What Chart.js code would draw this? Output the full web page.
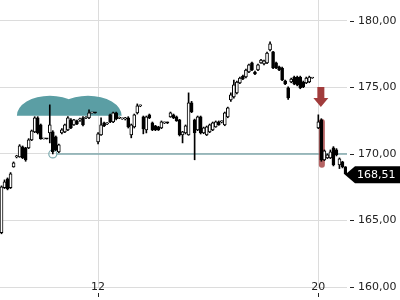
<!DOCTYPE html>
<html lang="de">
<head>
<meta charset="UTF-8">
<title>Kursverlauf</title>
<script src="https://cdn.jsdelivr.net/npm/chart.js"></script>
<style>
  html, body { margin: 0; padding: 0; background: #fff; }
</style>
</head>
<body>
<canvas id="chart" width="400" height="300"></canvas>
<script>
// Kerzen (Index = Zeitslot), null = keine Kerze
const open = [
  164.08, 167.46, 168.13, 167.46, 169.03, 169.78, 169.78, 170.53, 170.46, 170.46,
  171.06, 171.66, 172.71, 172.19, 171.13, 171.14, 171.58, 171.66, 171.28, 170.16,
  171.58, 171.66, 171.81, 172.56, 172.19, 172.49, 172.56, 172.71, 172.70, 172.71,
  173.09, 173.10, 170.91, 171.43, 172.34, 172.26, 172.94, 172.41, 173.09, 172.70,
  172.64, 172.64, 172.71, 171.43, 172.04, 173.09, 173.61, 172.79, 171.81, 172.94,
  172.34, 172.11, 172.04, 171.96, 172.33, 172.35, 172.79, 172.94, 172.79, 172.56,
  171.43, 171.58, 171.43, 173.84, 172.56, 171.81, 172.79, 171.58, 171.43, 171.66,
  171.81, 172.04, 172.41, 172.41, 172.19, 172.79, 174.06, 174.29, 174.59, 175.33,
  175.86, 175.78, 176.16, 176.84, 176.16, 176.31, 176.84, 176.76, 176.84, 177.82,
  177.67, 176.84, 176.54, 176.46, 175.49, 174.96, 175.41, 175.78, 175.78, 175.78,
  175.41, 175.33, 175.41, 175.71, null,   171.96, 172.56, 169.56, 169.71, 169.71,
  170.46, 170.31, 169.18, 169.41, 169.03
];
const high = [
  167.60, 168.05, 168.20, 168.60, 169.40, 169.90, 170.70, 170.60, 170.50, 171.15,
  171.80, 172.80, 172.80, 172.25, 171.16, 171.16, 173.69, 171.75, 171.35, 170.75,
  171.90, 172.25, 172.80, 172.65, 172.60, 172.55, 172.70, 172.80, 172.80, 173.31,
  173.12, 173.12, 171.60, 172.71, 172.40, 172.35, 173.00, 173.15, 173.15, 172.78,
  172.70, 172.75, 172.80, 172.25, 173.00, 173.76, 173.68, 172.85, 172.85, 173.00,
  172.40, 172.15, 172.08, 172.48, 172.40, 172.40, 173.15, 173.00, 172.85, 172.60,
  171.70, 172.18, 174.59, 173.95, 172.62, 172.85, 172.85, 172.02, 172.10, 172.25,
  172.40, 172.48, 172.48, 172.50, 173.15, 173.52, 174.60, 175.56, 175.48, 175.78,
  175.93, 176.38, 176.75, 176.90, 176.22, 176.75, 177.12, 177.05, 177.65, 178.42,
  177.72, 176.90, 176.60, 176.52, 175.55, 175.05, 175.70, 175.85, 175.85, 175.85,
  175.48, 175.78, 175.85, 175.76, null,   172.94, 172.65, 170.30, 170.00, 170.30,
  170.55, 170.40, 169.70, 169.45, 169.05
];
const low = [
  164.00, 167.40, 167.30, 167.40, 169.00, 169.70, 169.75, 169.65, 169.45, 170.40,
  171.00, 171.60, 171.50, 171.10, 171.12, 171.12, 170.83, 170.00, 170.25, 170.10,
  171.50, 171.60, 171.75, 171.90, 172.15, 172.20, 172.45, 172.10, 172.65, 172.65,
  173.07, 173.07, 170.76, 171.40, 172.05, 172.20, 172.35, 172.35, 172.55, 172.65,
  172.60, 172.55, 171.95, 171.21, 171.95, 173.00, 173.55, 171.51, 171.58, 172.65,
  171.75, 171.75, 171.76, 171.90, 172.28, 172.28, 172.75, 172.65, 172.45, 171.35,
  170.83, 171.50, 171.40, 173.10, 169.56, 171.75, 171.50, 171.52, 171.38, 171.60,
  171.75, 172.00, 172.15, 172.33, 172.12, 172.72, 173.95, 174.20, 174.52, 175.28,
  175.58, 175.72, 176.10, 176.25, 175.95, 176.25, 176.80, 176.70, 176.78, 177.75,
  176.40, 176.40, 176.25, 175.50, 175.20, 174.10, 175.35, 175.20, 175.12, 174.90,
  174.98, 175.28, 175.35, 175.68, null,   171.90, 169.45, 169.50, 169.65, 169.65,
  169.10, 169.85, 168.90, 168.95, 168.45
];
const close = [
  167.53, 167.91, 167.38, 168.51, 169.33, 169.80, 170.61, 169.71, 169.56, 171.06,
  171.73, 172.71, 171.58, 171.13, 171.14, 171.13, 172.19, 170.16, 170.31, 170.68,
  171.81, 172.19, 172.71, 171.96, 172.56, 172.26, 172.58, 172.19, 172.72, 173.09,
  173.10, 173.09, 171.51, 172.19, 172.11, 172.28, 172.41, 173.09, 172.64, 172.72,
  172.66, 172.65, 172.04, 172.19, 172.94, 173.61, 173.62, 171.89, 172.79, 172.71,
  171.81, 171.81, 171.81, 172.41, 172.35, 172.33, 173.09, 172.71, 172.49, 171.43,
  171.66, 172.11, 173.84, 173.16, 171.58, 172.79, 171.58, 171.96, 172.04, 172.19,
  172.34, 172.41, 172.19, 172.42, 173.09, 173.46, 174.44, 175.19, 175.41, 175.71,
  175.63, 176.31, 176.69, 176.31, 176.01, 176.69, 177.06, 176.99, 177.59, 178.27,
  176.46, 176.46, 176.31, 175.56, 175.26, 174.21, 175.63, 175.26, 175.19, 174.96,
  175.04, 175.71, 175.78, 175.72, null,   172.41, 169.56, 170.23, 169.93, 170.16,
  169.18, 169.93, 169.63, 169.03, 168.51
];

const yTicks = [160, 165, 170, 175, 180];
const xTickIndex = [32, 105];
const xTickText = ['12', '20'];

const lastPrice = 168.51;
const supportLevel = 170;
const supportStart = 17;
const signalIndex = 106;
const signalTop = 172.63, signalBottom = 168.96;
const arrowTip = 173.53;
// Untertassen-Formation: zwei Bögen
const humps = [
  { from: 5.1, to: 27.0, base: 172.87, top: 174.38 },
  { from: 17.5, to: 39.8, base: 172.87, top: 174.38 }
];

const labels = open.map((_, i) => String(i));
const wicks = low.map((l, i) => l === null ? null : [l, high[i]]);
const bodies = open.map((o, i) => o === null ? null : [o, close[i]]);

const fmt = v => v.toFixed(2).replace('.', ',');
const font = { family: 'DejaVu Sans', size: 11 };

const overlays = {
  id: 'overlays',
  beforeDatasetsDraw(chart) {
    const { ctx, chartArea, scales: { x, y } } = chart;
    ctx.save();
    // Bögen
    ctx.fillStyle = '#5b9ea4';
    ctx.beginPath();
    humps.forEach(h => {
      const x1 = x.getPixelForValue(h.from), x2 = x.getPixelForValue(h.to);
      const yb = y.getPixelForValue(h.base), yt = y.getPixelForValue(h.top);
      ctx.moveTo(x2, yb);
      ctx.ellipse((x1 + x2) / 2, yb, (x2 - x1) / 2, yb - yt, 0, 0, Math.PI, true);
      ctx.closePath();
    });
    ctx.fill();

    // Unterstützungslinie
    const ys = y.getPixelForValue(supportLevel);
    const xs = x.getPixelForValue(supportStart);
    ctx.strokeStyle = '#80a9ad';
    ctx.lineWidth = 1.5;
    ctx.beginPath();
    ctx.moveTo(xs + 4, ys);
    ctx.lineTo(chartArea.right, ys);
    ctx.stroke();
    ctx.strokeStyle = '#7aaaae';
    ctx.lineWidth = 1.2;
    ctx.beginPath();
    ctx.arc(xs, ys, 4, 0, Math.PI * 2);
    ctx.stroke();

    // Signal-Markierung
    const xm = x.getPixelForValue(signalIndex);
    const t = y.getPixelForValue(signalTop), b = y.getPixelForValue(signalBottom);
    ctx.fillStyle = 'rgba(168,72,72,0.85)';
    ctx.beginPath();
    ctx.roundRect(xm - 2.5, t, 6, b - t, 3);
    ctx.fill();
    ctx.restore();
  },
  afterDatasetsDraw(chart) {
    const { ctx, scales: { x, y } } = chart;
    const xm = x.getPixelForValue(signalIndex) - 0.5;
    const tip = y.getPixelForValue(arrowTip);
    ctx.save();
    ctx.fillStyle = '#a13c3c';
    ctx.beginPath();
    ctx.moveTo(xm - 3.5, tip - 20);
    ctx.lineTo(xm + 3.5, tip - 20);
    ctx.lineTo(xm + 3.5, tip - 9);
    ctx.lineTo(xm + 7.5, tip - 9);
    ctx.lineTo(xm, tip);
    ctx.lineTo(xm - 7.5, tip - 9);
    ctx.lineTo(xm - 3.5, tip - 9);
    ctx.closePath();
    ctx.fill();
    ctx.restore();
  },
  afterDraw(chart) {
    const { ctx, chartArea, scales: { x, y } } = chart;
    ctx.save();
    // Teilstriche
    ctx.strokeStyle = '#222';
    ctx.lineWidth = 1;
    ctx.beginPath();
    y.ticks.forEach(t => {
      const p = Math.round(y.getPixelForValue(t.value)) + 0.5;
      ctx.moveTo(chartArea.right + 3, p);
      ctx.lineTo(chartArea.right + 7, p);
    });
    x.ticks.forEach(t => {
      const p = Math.round(x.getPixelForValue(t.value)) + 0.5;
      ctx.moveTo(p, chartArea.bottom + 6);
      ctx.lineTo(p, chartArea.bottom + 10);
    });
    ctx.stroke();

    // Kursmarke
    const yp = y.getPixelForValue(lastPrice) + 1;
    const x0 = chartArea.right - 2;
    ctx.fillStyle = '#000';
    ctx.beginPath();
    ctx.moveTo(x0, yp);
    ctx.lineTo(x0 + 10, yp - 8.5);
    ctx.lineTo(chart.width, yp - 8.5);
    ctx.lineTo(chart.width, yp + 8.5);
    ctx.lineTo(x0 + 10, yp + 8.5);
    ctx.closePath();
    ctx.fill();
    ctx.fillStyle = '#fff';
    ctx.font = '11px "DejaVu Sans"';
    ctx.textBaseline = 'middle';
    ctx.fillText(fmt(lastPrice), 357, yp);
    ctx.restore();
  }
};

new Chart(document.getElementById('chart'), {
  type: 'bar',
  data: {
    labels: labels,
    datasets: [
      {
        data: wicks,
        backgroundColor: '#000',
        barThickness: 1,
        grouped: false,
        order: 2
      },
      {
        data: bodies,
        backgroundColor: c => close[c.dataIndex] >= open[c.dataIndex] ? '#fff' : '#000',
        borderColor: '#000',
        borderWidth: 1,
        borderSkipped: false,
        barThickness: 3,
        minBarLength: 1,
        grouped: false,
        order: 1
      }
    ]
  },
  options: {
    responsive: false,
    animation: false,
    layout: { padding: 0 },
    plugins: { legend: { display: false }, tooltip: { enabled: false } },
    scales: {
      x: {
        type: 'category',
        offset: true,
        border: { display: false },
        grid: { offset: false, color: '#dcdcdc', drawTicks: false },
        ticks: {
          autoSkip: false, maxRotation: 0, mirror: true, padding: -6.3, color: '#222', font: font,
          callback: v => xTickText[xTickIndex.indexOf(v)]
        },
        afterBuildTicks: s => { s.ticks = xTickIndex.map(v => ({ value: v })); },
        afterFit: s => { s.height = 13; s.paddingLeft = 0; s.paddingRight = 0; }
      },
      y: {
        position: 'right',
        min: 160,
        max: 181.57,
        border: { display: false },
        grid: { color: '#dcdcdc', drawTicks: false },
        ticks: { padding: 11, color: '#222', font: font, callback: v => fmt(v) },
        afterBuildTicks: s => { s.ticks = yTicks.map(v => ({ value: v })); },
        afterFit: s => { s.width = 53; s.paddingTop = 0; s.paddingBottom = 0; }
      }
    }
  },
  plugins: [overlays]
});
</script>
</body>
</html>
